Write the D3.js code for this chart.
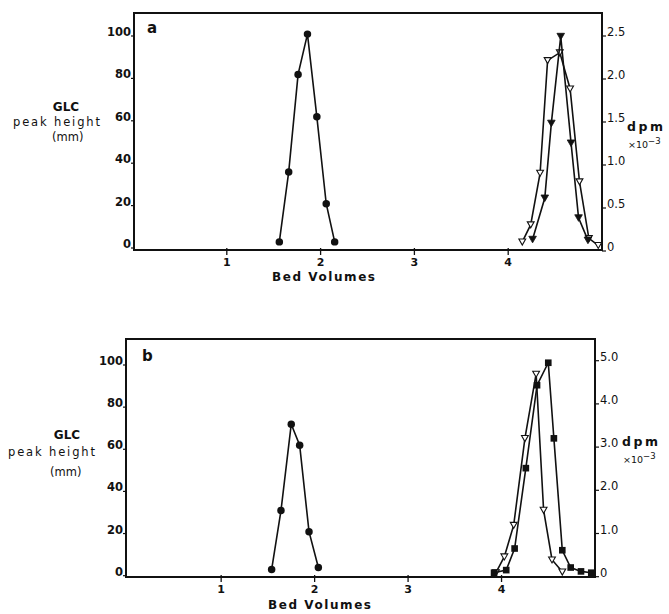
<!DOCTYPE html>
<html>
<head>
<meta charset="utf-8">
<script src="https://cdn.jsdelivr.net/npm/d3@7"></script>
<style>
  html, body { margin: 0; padding: 0; background: #fff; }
  svg { display: block; }
  text { font-family: "DejaVu Sans", sans-serif; fill: #111; }
</style>
</head>
<body>
<svg id="fig" width="669" height="614"></svg>
<script>
// Bed-volume ticks shared by both panels
const bvTicks = [1, 2, 3, 4];
const glcTicks = [0, 20, 40, 60, 80, 100];

// Panel a: right-axis ticks (dpm x 10^-3)
const dpmTicksA = [0, 0.5, 1.0, 1.5, 2.0, 2.5];
const dpmLabelsA = ["0", "0.5", "1.0", "1.5", "2.0", "2.5"];
// Panel b: right-axis ticks
const dpmTicksB = [0, 1, 2, 3, 4, 5];
const dpmLabelsB = ["0", "1.0", "2.0", "3.0", "4.0", "5.0"];

// Panel a — GLC peak height (mm), filled circles
const glcA_bv = [1.56, 1.66, 1.76, 1.86, 1.96, 2.06, 2.15];
const glcA    = [1, 34, 80, 99, 60, 19, 1];
// Panel a — dpm x 10^-3, open triangles
const openA_bv = [4.15, 4.24, 4.34, 4.42, 4.55, 4.66, 4.76, 4.86, 4.96];
const openA    = [0.06, 0.26, 0.86, 2.17, 2.26, 1.84, 0.76, 0.10, 0.02];
// Panel a — dpm x 10^-3, filled triangles
const fillA_bv = [4.26, 4.39, 4.46, 4.56, 4.67, 4.75, 4.85];
const fillA    = [0.09, 0.57, 1.44, 2.45, 1.21, 0.34, 0.08];

// Panel b — GLC peak height (mm), filled circles
const glcB_bv = [1.54, 1.64, 1.75, 1.84, 1.94, 2.04];
const glcB    = [1, 29, 70, 60, 19, 2];
// Panel b — dpm x 10^-3, filled squares
const sqB_bv = [3.92, 4.05, 4.14, 4.26, 4.38, 4.50, 4.56, 4.65, 4.74, 4.85, 4.96];
const sqB    = [0, 0.06, 0.56, 2.42, 4.34, 4.86, 3.11, 0.52, 0.12, 0.03, 0];
// Panel b — dpm x 10^-3, open triangles
const openB_bv = [3.94, 4.03, 4.13, 4.25, 4.37, 4.45, 4.54, 4.65];
const openB    = [0, 0.37, 1.10, 3.11, 4.60, 1.45, 0.30, 0.02];

const svg = d3.select("#fig");
const zip = (xs, ys) => xs.map((x, i) => ({ x, y: ys[i] }));

function panel(cfg) {
  const g = svg.append("g");
  const x = d3.scaleLinear().domain([0, 5]).range([cfg.x0, cfg.x1]);
  const yL = d3.scaleLinear().domain([0, 100]).range(cfg.yL);
  const yR = d3.scaleLinear().domain([0, cfg.rMax]).range(cfg.yR);

  // frame
  g.append("rect")
    .attr("x", cfg.fl).attr("y", cfg.ft)
    .attr("width", cfg.fr - cfg.fl).attr("height", cfg.fb - cfg.ft)
    .attr("fill", "none").attr("stroke", "#111").attr("stroke-width", 2);

  // left axis ticks & labels
  const la = g.append("g");
  la.selectAll("line").data(glcTicks).join("line")
    .attr("x1", cfg.fl - 3).attr("x2", cfg.fl)
    .attr("y1", d => yL(d) + 4).attr("y2", d => yL(d) + 4)
    .attr("stroke", "#111").attr("stroke-width", 1.2);
  la.selectAll("text").data(glcTicks).join("text")
    .attr("x", cfg.fl - 3).attr("y", d => yL(d))
    .attr("text-anchor", "end").attr("dominant-baseline", "central")
    .attr("font-size", 11.5).attr("font-weight", "bold")
    .text(d => d);

  // right axis ticks & labels
  const ra = g.append("g");
  ra.selectAll("line").data(cfg.rTicks).join("line")
    .attr("x1", cfg.fr).attr("x2", cfg.fr + 4)
    .attr("y1", d => yR(d) + 4).attr("y2", d => yR(d) + 4)
    .attr("stroke", "#111").attr("stroke-width", 1.2);
  ra.selectAll("text").data(cfg.rTicks).join("text")
    .attr("x", cfg.fr + 5).attr("y", d => yR(d))
    .attr("dominant-baseline", "central")
    .attr("font-size", 11.5)
    .text((d, i) => cfg.rLabels[i]);

  // bottom axis ticks & labels
  const ba = g.append("g");
  ba.selectAll("line").data(bvTicks).join("line")
    .attr("x1", d => x(d)).attr("x2", d => x(d))
    .attr("y1", cfg.fb - 2).attr("y2", cfg.fb + 5)
    .attr("stroke", "#111").attr("stroke-width", 1.3);
  ba.selectAll("text").data(bvTicks).join("text")
    .attr("x", d => x(d)).attr("y", cfg.fb + 12)
    .attr("text-anchor", "middle").attr("dominant-baseline", "central")
    .attr("font-size", 11).attr("font-weight", "bold")
    .text(d => d);

  // axis titles
  g.append("text").attr("x", cfg.bvX).attr("y", cfg.bvY)
    .attr("dominant-baseline", "central")
    .attr("font-size", 12).attr("font-weight", "bold")
    .attr("textLength", 103).attr("lengthAdjust", "spacing")
    .text("Bed  Volumes");

  g.append("text").attr("x", cfg.glcX).attr("y", cfg.glcY)
    .attr("text-anchor", "middle").attr("dominant-baseline", "central")
    .attr("font-size", 12).attr("font-weight", "bold")
    .text("GLC");
  g.append("text").attr("x", cfg.phX).attr("y", cfg.glcY + (cfg.phDy))
    .attr("dominant-baseline", "central")
    .attr("font-size", 11.5)
    .attr("textLength", 87).attr("lengthAdjust", "spacing")
    .text("peak height");
  g.append("text").attr("x", cfg.mmX).attr("y", cfg.glcY + cfg.mmDy)
    .attr("dominant-baseline", "central")
    .attr("font-size", 11.5)
    .text("(mm)");

  g.append("text").attr("x", cfg.dpmX).attr("y", cfg.dpmY)
    .attr("dominant-baseline", "central")
    .attr("font-size", 12.5).attr("font-weight", "bold")
    .attr("textLength", 36).attr("lengthAdjust", "spacing")
    .text("dpm");
  const sc = g.append("text").attr("x", cfg.dpmX + 1).attr("y", cfg.dpmY + 18)
    .attr("dominant-baseline", "central")
    .attr("font-size", 9.5);
  sc.append("tspan").text("\u00d710");
  sc.append("tspan").attr("dy", -3).attr("font-size", 8.5).text("\u22123");

  g.append("text").attr("x", cfg.letX).attr("y", cfg.letY)
    .attr("dominant-baseline", "central")
    .attr("font-size", 15).attr("font-weight", "bold")
    .text(cfg.letter);

  // series
  const line = (ys) => d3.line().x(d => x(d.x)).y(d => ys(d.y));
  cfg.series.forEach(s => {
    const ys = s.axis === "L" ? yL : yR;
    const pts = zip(s.bv, s.v);
    g.append("path").datum(pts)
      .attr("d", line(ys))
      .attr("fill", "none").attr("stroke", "#111").attr("stroke-width", 1.6);
    const m = g.append("g").selectAll("path").data(pts).join("path")
      .attr("transform", d => `translate(${x(d.x)},${ys(d.y)})`);
    if (s.mark === "circle") {
      m.attr("d", d3.symbol(d3.symbolCircle, 44)()).attr("fill", "#111");
    } else if (s.mark === "square") {
      m.attr("d", d3.symbol(d3.symbolSquare, 44)()).attr("fill", "#111");
    } else if (s.mark === "tri") {
      m.attr("d", "M-3.8,-3 L3.8,-3 L0,3.6 Z").attr("fill", "#111")
        .attr("stroke", "#111").attr("stroke-width", 0.8);
    } else {
      m.attr("d", "M-3.4,-2.8 L3.4,-2.8 L0,3.2 Z").attr("fill", "#fff")
        .attr("stroke", "#111").attr("stroke-width", 1.1);
    }
  });
}

panel({
  letter: "a",
  fl: 134, fr: 602, ft: 13, fb: 250,
  x0: 133, x1: 602,
  yL: [244, 32], yR: [247, 32], rMax: 2.5,
  rTicks: dpmTicksA, rLabels: dpmLabelsA,
  bvX: 272, bvY: 277,
  glcX: 66, glcY: 107, phX: 13, phDy: 15, mmX: 52, mmDy: 30,
  dpmX: 627, dpmY: 126,
  letX: 147, letY: 28,
  series: [
    { bv: glcA_bv, v: glcA, axis: "L", mark: "circle" },
    { bv: openA_bv, v: openA, axis: "R", mark: "open" },
    { bv: fillA_bv, v: fillA, axis: "R", mark: "tri" }
  ]
});

panel({
  letter: "b",
  fl: 126, fr: 595, ft: 339, fb: 577,
  x0: 127.7, x1: 595,
  yL: [571.7, 361], yR: [572.7, 356.7], rMax: 5,
  rTicks: dpmTicksB, rLabels: dpmLabelsB,
  bvX: 268, bvY: 605,
  glcX: 67, glcY: 435, phX: 8, phDy: 17, mmX: 50, mmDy: 37,
  dpmX: 622, dpmY: 441,
  letX: 142, letY: 356,
  series: [
    { bv: glcB_bv, v: glcB, axis: "L", mark: "circle" },
    { bv: openB_bv, v: openB, axis: "R", mark: "open" },
    { bv: sqB_bv, v: sqB, axis: "R", mark: "square" }
  ]
});
</script>
</body>
</html>
